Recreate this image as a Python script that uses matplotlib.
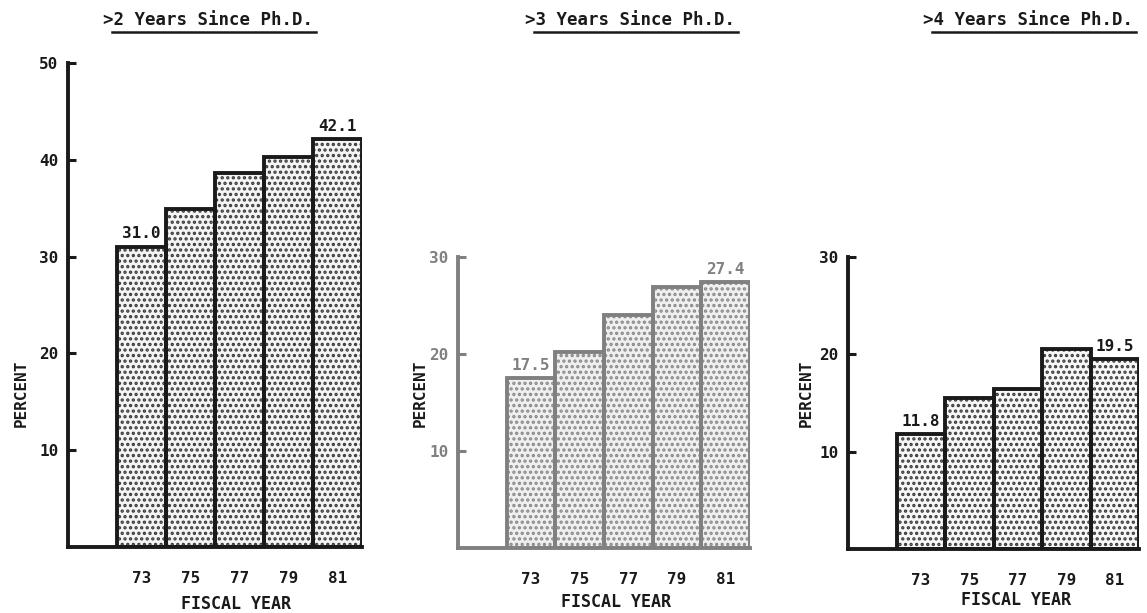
import matplotlib
matplotlib.use("Agg")
import matplotlib.pyplot as plt
from matplotlib.lines import Line2D

plt.rcParams['font.family'] = ['DejaVu Sans Mono', 'DejaVu Sans']
plt.rcParams['font.weight'] = 'bold'
plt.rcParams['hatch.linewidth'] = 1.6

years = ["73", "75", "77", "79", "81"]

# percent of faculty, by years since Ph.D.
pct_2yr = [31.0, 34.9, 38.6, 40.3, 42.1]
pct_3yr = [17.5, 20.2, 24.0, 26.9, 27.4]
pct_4yr = [11.8, 15.5, 16.4, 20.5, 19.5]

titles = ["2 Years Since Ph.D.", "3 Years Since Ph.D.", "4 Years Since Ph.D."]
ymaxes = [50, 30, 30]
yticks = [[10, 20, 30, 40, 50], [10, 20, 30], [10, 20, 30]]

W, H = 1147, 613
fig = plt.figure(figsize=(W / 100, H / 100), dpi=100)

# pixel boxes: left, right, bottom(0), top(ymax)
boxes = [(68, 362, 547, 63), (458, 750, 548, 257), (848, 1139, 549, 257)]
title_x = [208, 630, 1028]
ylabel_x = [21, 420, 806]
xlabel_pos = [(236, 604), (616, 602), (1016, 600)]
colors = ["#1a1a1a", "#808080", "#1a1a1a"]
dots = ["#3a3a3a", "#8a8a8a", "#3a3a3a"]
faces = ["#f4f4f4", "#efefef", "#f7f7f7"]

data = [pct_2yr, pct_3yr, pct_4yr]

for k in range(3):
    l, r, b, t = boxes[k]
    ax = fig.add_axes([l / W, (H - b) / H, (r - l) / W, (b - t) / H])
    vals = data[k]
    x = list(range(len(years)))
    c = colors[k]

    # stipple fill
    ax.bar(x, vals, width=1.0, color=faces[k], edgecolor=dots[k],
           linewidth=0, hatch="...")
    # outlines
    ax.bar(x, vals, width=1.0, fill=False, edgecolor=c, linewidth=2.8)

    ax.set_xlim(-1.5, 4.5)
    ax.set_ylim(0, ymaxes[k])
    ax.spines['top'].set_visible(False)
    ax.spines['right'].set_visible(False)
    for s in ['left', 'bottom']:
        ax.spines[s].set_linewidth(2.8)
        ax.spines[s].set_color(c)

    ax.set_yticks(yticks[k])
    ax.tick_params(axis='y', direction='in', length=6, width=2.2, color=c,
                   labelcolor=c, labelsize=11.5, pad=7)
    ax.set_xticks(x)
    ax.set_xticklabels(years)
    ax.tick_params(axis='x', length=0, labelsize=11.5, pad=17, labelcolor="#1a1a1a")
    for lab in ax.get_xticklabels() + ax.get_yticklabels():
        lab.set_fontweight('bold')

    # value labels on first and last bar
    for i in (0, len(vals) - 1):
        ax.annotate(f"{vals[i]:.1f}", (x[i], vals[i]), xytext=(0, 4),
                    textcoords='offset points', ha='center', va='bottom',
                    fontsize=11.5, fontweight='bold', color=c)

    fig.text(ylabel_x[k] / W, 1 - 393 / H, "PERCENT", rotation=90,
             ha='center', va='center', fontsize=11.5, fontweight='bold',
             color="#1a1a1a")

    fig.text(xlabel_pos[k][0] / W, 1 - xlabel_pos[k][1] / H, "FISCAL YEAR",
             ha='center', va='center', fontsize=12, fontweight='bold',
             color="#1a1a1a")

    # underlined title
    fig.text(title_x[k] / W, 1 - 20 / H, ">" + titles[k], ha='center',
             va='center', fontsize=12.5, fontweight='bold', color="#1a1a1a")
    tw = 208
    fig.add_artist(Line2D([(title_x[k] - tw / 2 + 8) / W, (title_x[k] + tw / 2 + 4) / W],
                          [1 - 32 / H, 1 - 32 / H], color="#1a1a1a", linewidth=1.8))

fig.savefig("out.png", dpi=100, facecolor="white")
